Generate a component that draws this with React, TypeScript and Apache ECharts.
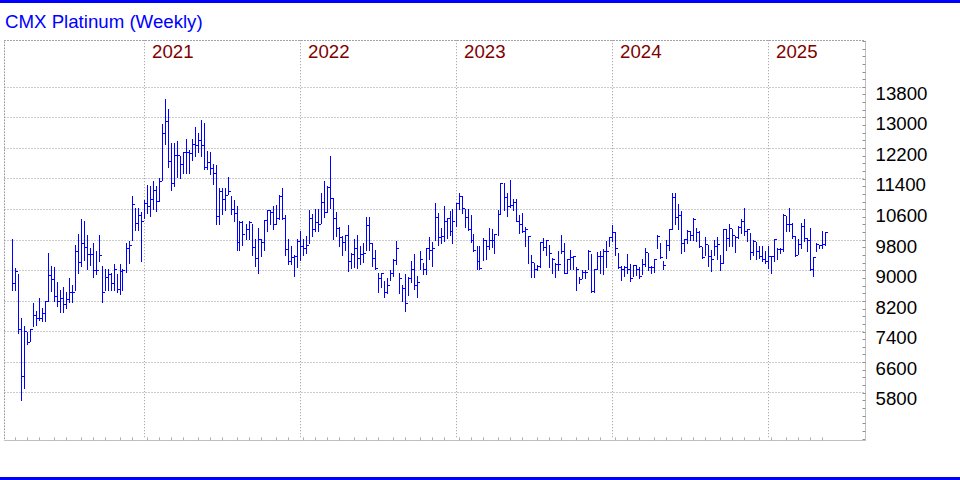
import React, { useEffect, useRef } from 'react';
import * as echarts from 'echarts';

const chartTitle = 'CMX Platinum (Weekly)';
const firstWeek = '2020-02-28';
const yTickLabels = [5800, 6600, 7400, 8200, 9000, 9800, 10600, 11400, 12200, 13000, 13800];

const high = [
  9830, 9070, 8920, 7770, 7560, 7400, 7450, 8150, 7930, 8280,
  8020, 8200, 9450, 9130, 9100, 8700, 8500, 8570, 8430, 8810,
  8610, 9660, 9950, 10360, 10290, 9920, 9600, 9710, 9510, 9920,
  9110, 9040, 9050, 8940, 9180, 8920, 9180, 9050, 9720, 9770,
  10950, 10640, 10640, 10530, 10840, 11250, 11210, 11340, 11210, 11430,
  12830, 13480, 13220, 12350, 12330, 12390, 12010, 12080, 12450, 12150,
  12430, 12750, 12600, 12950, 12850, 12140, 12110, 11790, 11760, 11150,
  11150, 11150, 11440, 10940, 10840, 10690, 10310, 10300, 10210, 10300,
  10230, 9820, 10120, 9820, 10300, 10580, 10580, 10690, 10710, 10990,
  11150, 10450, 9830, 9640, 9420, 9820, 10030, 9820, 9900, 10590,
  10470, 10600, 10600, 11040, 11350, 11220, 12010, 10910, 10520, 10150,
  9900, 9920, 10180, 9460, 9820, 9920, 9640, 9730, 10390, 10390,
  9730, 9550, 8930, 8930, 8730, 8800, 9020, 9290, 9770, 8930,
  8630, 8920, 8820, 9240, 9440, 8860, 9500, 9200, 9590, 9880,
  9740, 10760, 10510, 10120, 10690, 10380, 10570, 10600, 10780, 11020,
  10950, 10600, 10600, 10460, 9960, 9650, 9650, 9850, 9800, 10110,
  10080, 9940, 10590, 11300, 11300, 11030, 11370, 10860, 10870, 10460,
  10510, 10140, 9890, 9410, 9190, 9150, 9760, 9850, 9800, 9670,
  9320, 9190, 9500, 9940, 9710, 9300, 9550, 9360, 9090, 8830,
  9020, 9020, 9550, 9440, 9040, 9480, 9500, 9570, 9770, 9880,
  10180, 10000, 9460, 9110, 9130, 9440, 9180, 9150, 9150, 9090,
  9290, 9590, 9460, 9130, 9290, 9920, 9720, 9240, 9810, 10070,
  11020, 11040, 10730, 10560, 9810, 10070, 10030, 10380, 10120, 10030,
  9620, 9880, 9680, 9550, 9810, 9880, 9420, 10090, 10090, 10210,
  10090, 9900, 10160, 10340, 10640, 10090, 9990, 9810, 9740, 9650,
  9640, 9500, 9640, 9370, 9830, 9590, 9590, 10470, 10440, 10640,
  10250, 9900, 9830, 10250, 10350, 9860, 10120, 9360, 9720, 9680,
  10030, 10000,
];

const low = [
  8500, 8500, 7370, 5620, 5940, 7090, 7170, 7560, 7580, 7700,
  7670, 7670, 8210, 8460, 8200, 8070, 7910, 7910, 8020, 8170,
  8180, 8480, 8940, 9110, 9270, 9030, 9140, 8830, 8910, 9240,
  8190, 8500, 8480, 8500, 8500, 8430, 8390, 8500, 8950, 9200,
  9810, 10070, 10060, 9240, 10380, 10510, 10420, 10600, 10550, 10830,
  11380, 12300, 11710, 11120, 11210, 11450, 11410, 11540, 11560, 11560,
  11890, 12010, 12100, 12010, 11670, 11670, 11530, 11260, 10210, 10210,
  10470, 10580, 11000, 10470, 10300, 9550, 9530, 9660, 9820, 9820,
  9420, 9130, 8940, 9380, 9550, 10030, 10230, 10080, 10210, 10340,
  10340, 9420, 9160, 9180, 8850, 9100, 9270, 9420, 9460, 9730,
  9900, 10030, 10030, 10250, 10410, 10520, 10650, 9820, 9900, 9640,
  9420, 9550, 8980, 9070, 9090, 9070, 9160, 9220, 9550, 9550,
  9110, 9030, 8450, 8580, 8300, 8410, 8760, 8850, 9170, 8410,
  8210, 7950, 8360, 8710, 8510, 8320, 9040, 8920, 8920, 9300,
  9110, 9790, 9680, 9720, 9770, 9860, 9940, 9720, 10160, 10600,
  10510, 10140, 10070, 9760, 9500, 9030, 9030, 9280, 9300, 9560,
  9610, 9450, 9940, 10510, 10590, 10420, 10660, 10590, 10290, 9980,
  10020, 9630, 9210, 8840, 8820, 9020, 9100, 9540, 9410, 9100,
  8930, 8820, 9020, 9450, 8930, 8930, 9040, 9040, 8480, 8670,
  8800, 8800, 9040, 8430, 8430, 9040, 8930, 8920, 9090, 9640,
  9770, 9420, 9070, 8760, 8850, 8930, 8740, 8850, 8890, 8800,
  8920, 9110, 9020, 8930, 8950, 9590, 9330, 9040, 9330, 9550,
  10090, 10230, 10090, 9460, 9500, 9720, 9790, 9810, 9770, 9620,
  9330, 9420, 9110, 9000, 9420, 9290, 9020, 9210, 9550, 9640,
  9640, 9480, 9860, 9990, 9940, 9770, 9290, 9420, 9290, 9330,
  9240, 9200, 9070, 8930, 9240, 9290, 9460, 9500, 10030, 10030,
  9860, 9370, 9440, 9590, 9770, 9500, 9020, 8850, 9500, 9590,
  9590, 9680,
];

const close = [
  8660, 8980, 7450, 6220, 7400, 7130, 7450, 7820, 7740, 7740,
  7890, 8200, 8870, 8770, 8310, 8180, 8280, 8100, 8240, 8420,
  8420, 9490, 9200, 9710, 9600, 9420, 9420, 9000, 9000, 9390,
  8430, 8830, 8890, 8660, 9020, 8500, 8980, 9000, 9570, 9650,
  10730, 10230, 10440, 10290, 10750, 10680, 10860, 11100, 10800, 11340,
  12590, 12910, 11860, 11270, 12010, 12010, 11780, 12080, 12100, 12070,
  12300, 12270, 12400, 12270, 11700, 11830, 11660, 11530, 10410, 11070,
  10850, 10970, 11070, 10600, 10500, 9730, 10270, 9950, 10080, 10250,
  9600, 9320, 9820, 9730, 10300, 10560, 10520, 10210, 10360, 10930,
  10360, 9550, 9250, 9330, 9360, 9770, 9640, 9580, 9660, 10370,
  10080, 10250, 10210, 10780, 10530, 11170, 10890, 10360, 10100, 9860,
  9730, 9920, 9250, 9420, 9570, 9320, 9420, 9450, 10180, 9710,
  9320, 9050, 8780, 8920, 8430, 8600, 8920, 9270, 9590, 8790,
  8540, 8140, 8780, 9020, 8600, 8700, 9290, 9040, 9570, 9530,
  9590, 10380, 9860, 9880, 10290, 10350, 10030, 10290, 10760, 10950,
  10620, 10380, 10070, 9800, 9520, 9230, 9060, 9800, 9630, 9780,
  9790, 9940, 10460, 11280, 10900, 10680, 10700, 10770, 10290, 10200,
  10020, 10080, 9890, 9210, 9030, 9100, 9730, 9610, 9800, 9450,
  9280, 9150, 9150, 9500, 8930, 9300, 9330, 9360, 9040, 8760,
  8950, 8950, 9500, 8450, 9020, 9360, 9360, 9500, 9500, 9860,
  9990, 9590, 9090, 9040, 9090, 9020, 8780, 9130, 9040, 8850,
  9150, 9460, 9070, 9070, 9290, 9900, 9350, 9130, 9650, 10070,
  10910, 10380, 10440, 9720, 9810, 10030, 9920, 10340, 10000, 9620,
  9330, 9680, 9360, 9290, 9640, 9680, 9180, 10070, 9830, 10090,
  9920, 9860, 10140, 10290, 10030, 10070, 9480, 9770, 9500, 9360,
  9290, 9240, 9360, 9360, 9810, 9550, 9550, 10440, 10210, 10210,
  9880, 9390, 9680, 10160, 9830, 9780, 9020, 9330, 9680, 9650,
  9680, 10000,
];

const LEAD_PAD = 2;
const TAIL_PAD = 13;
const FONT = '"Liberation Sans", Arial, sans-serif';
const FS = 18.67;
const GRID_DOT = '#999999';

function buildWeeks(n: number): string[] {
  const out: string[] = [];
  const [y, m, d] = firstWeek.split('-').map(Number);
  const t0 = Date.UTC(y, m - 1, d);
  for (let i = 0; i < n; i++) {
    const dt = new Date(t0 + i * 7 * 86400000);
    if (dt.getUTCMonth() === 0 && dt.getUTCDate() === 1) dt.setUTCDate(0);
    out.push(dt.toISOString().slice(0, 10));
  }
  return out;
}

export default function App() {
  const ref = useRef<HTMLDivElement>(null);

  useEffect(() => {
    document.body.style.margin = '0';
    if (!ref.current) return;
    const chart = echarts.init(ref.current, null, { renderer: 'svg' });

    const weeks = buildWeeks(high.length);
    const cats: string[] = [];
    for (let i = 0; i < LEAD_PAD; i++) cats.push('lead' + i);
    weeks.forEach((w) => cats.push(w));
    for (let i = 0; i < TAIL_PAD; i++) cats.push('tail' + i);

    const monthTick = new Set<number>();
    const yearStart = new Set<number>();
    const yearLineIdx: number[] = [];
    weeks.forEach((w, i) => {
      if (i > 0 && w.slice(0, 7) !== weeks[i - 1].slice(0, 7)) monthTick.add(i + LEAD_PAD);
      if (i > 0 && w.slice(0, 4) !== weeks[i - 1].slice(0, 4)) {
        yearStart.add(i + LEAD_PAD);
        yearLineIdx.push(i - 1 + LEAD_PAD);
      }
    });

    const data = weeks.map((_, i) => [i + LEAD_PAD, high[i], low[i], close[i]]);
    const dotted = { type: [1, 2] as any, color: GRID_DOT, width: 1 };
    const dotStyle = { stroke: GRID_DOT, lineWidth: 1, lineDash: [1, 2] };

    chart.setOption({
      animation: false,
      backgroundColor: '#ffffff',
      title: {
        text: chartTitle,
        left: 5,
        top: 12.3,
        padding: 0,
        textStyle: { color: '#0000ff', fontSize: FS, fontWeight: 'normal', fontFamily: FONT },
      },
      graphic: [
        { type: 'rect', shape: { x: 0, y: 0, width: 960, height: 3 }, style: { fill: '#0000ff' }, silent: true },
        { type: 'rect', shape: { x: 0, y: 477, width: 960, height: 3 }, style: { fill: '#0000ff' }, silent: true },
      ],
      grid: { left: 4.5, width: 861, top: 41.2, bottom: 41.2, outerBoundsMode: 'none', containLabel: false },
      xAxis: [
        {
          type: 'category',
          data: cats,
          position: 'bottom',
          boundaryGap: true,
          offset: 1.5,
          axisLine: { show: true, lineStyle: { color: '#c0c0c0', width: 1 } },
          axisTick: {
            show: true,
            inside: true,
            length: 3,
            alignWithLabel: true,
            interval: (idx: number) => monthTick.has(idx),
            lineStyle: { color: '#b0b0b0' },
          },
          axisLabel: { show: false },
          splitLine: { show: false },
        },
        {
          type: 'category',
          data: cats,
          position: 'top',
          boundaryGap: true,
          offset: 1.2,
          axisLine: { show: true, lineStyle: dotted },
          axisTick: { show: false },
          axisLabel: {
            show: true,
            inside: true,
            interval: (idx: number) => yearStart.has(idx),
            formatter: (v: string) => v.slice(0, 4),
            align: 'left',
            verticalAlign: 'middle',
            margin: 11.7,
            padding: [0, 0, 0, 5],
            color: '#800000',
            fontSize: FS,
            fontFamily: FONT,
          },
          splitLine: { show: false },
        },
      ],
      yAxis: [
        {
          type: 'value',
          position: 'right',
          min: 4600,
          max: 15000,
          interval: 200,
          axisLine: { show: true, lineStyle: { color: '#c0c0c0', width: 1 } },
          axisTick: { show: true, inside: true, length: 3, lineStyle: { color: '#909090' } },
          axisLabel: {
            show: true,
            formatter: (v: number) => (yTickLabels.includes(v) ? String(v) : ''),
            color: '#000000',
            fontSize: FS,
            fontFamily: FONT,
            align: 'left',
            verticalAlign: 'top',
            lineHeight: 12,
            margin: 10,
          },
          splitLine: { show: false },
        },
        {
          type: 'value',
          position: 'left',
          min: 4600,
          max: 15000,
          interval: 200,
          axisLine: { show: true, lineStyle: dotted },
          axisTick: { show: false },
          axisLabel: { show: false },
          splitLine: { show: false },
        },
      ],
      series: [
        {
          type: 'custom',
          name: 'hgrid',
          xAxisIndex: 0,
          yAxisIndex: 0,
          silent: true,
          z: 1,
          encode: { x: 0, y: 1 },
          data: yTickLabels.map((v) => [0, v]),
          renderItem: (params: any, api: any) => {
            const cs = params.coordSys;
            const p = api.coord([0, api.value(1)]);
            const y = Math.round(p[1] - 0.5) + 0.5;
            return {
              type: 'line',
              shape: { x1: cs.x, y1: y, x2: cs.x + cs.width, y2: y },
              style: dotStyle,
            };
          },
        },
        {
          type: 'custom',
          name: 'vgrid',
          xAxisIndex: 0,
          yAxisIndex: 0,
          silent: true,
          z: 1,
          encode: { x: 0, y: 1 },
          data: yearLineIdx.map((k) => [k, 10000]),
          renderItem: (params: any, api: any) => {
            const cs = params.coordSys;
            const p = api.coord([api.value(0), api.value(1)]);
            const x = Math.floor(p[0]) + 0.5;
            return {
              type: 'line',
              shape: { x1: x, y1: cs.y - 1, x2: x, y2: cs.y + cs.height },
              style: dotStyle,
            };
          },
        },
        {
          type: 'custom',
          name: 'CMX Platinum',
          xAxisIndex: 0,
          yAxisIndex: 0,
          z: 3,
          encode: { x: 0, y: [1, 2, 3] },
          data,
          renderItem: (_params: any, api: any) => {
            const k = api.value(0);
            const ph = api.coord([k, api.value(1)]);
            const pl = api.coord([k, api.value(2)]);
            const pc = api.coord([k, api.value(3)]);
            const x = Math.floor(ph[0]) + 0.5;
            const yc = Math.floor(pc[1]) + 0.5;
            const st = { stroke: '#0000ff', lineWidth: 1 };
            return {
              type: 'group',
              children: [
                { type: 'line', shape: { x1: x, y1: Math.round(ph[1]), x2: x, y2: Math.round(pl[1]) + 1 }, style: st },
                { type: 'line', shape: { x1: x - 0.5, y1: yc, x2: x + 2.5, y2: yc }, style: st },
              ],
            };
          },
        },
      ],
    });

    return () => chart.dispose();
  }, []);

  return (
    <div
      ref={ref}
      style={{ position: 'absolute', left: 0, top: 0, width: 960, height: 480, background: '#fff' }}
    />
  );
}
